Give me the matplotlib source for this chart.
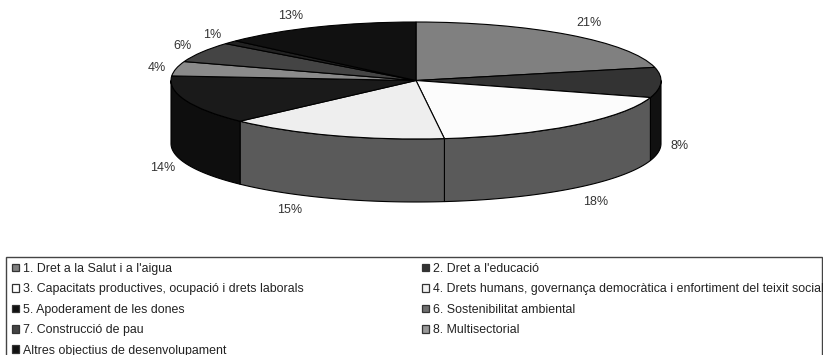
import numpy as np
import matplotlib
matplotlib.use("Agg")
import matplotlib.pyplot as plt
from matplotlib.patches import Patch, Rectangle

plt.rcParams['font.family'] = ['Liberation Sans', 'DejaVu Sans']

categories = ["1. Dret a la Salut i a l'aigua", "2. Dret a l'educació",
              "3. Capacitats productives, ocupació i drets laborals",
              "4. Drets humans, governança democràtica i enfortiment del teixit social",
              "5. Apoderament de les dones", "6. Sostenibilitat ambiental",
              "7. Construcció de pau", "8. Multisectorial",
              "Altres objectius de desenvolupament"]
# slice order around the pie, clockwise from 12 o'clock
slice_values = [21.4, 8.3, 18.45, 14.6, 13.5, 4.0, 5.6, 1.0, 13.15]
top_colors = ['#808080', '#333333', '#fcfcfc', '#eeeeee', '#1a1a1a', '#8a8a8a', '#444444', '#222222', '#111111']
side_colors = ['#555555', '#111111', '#5a5a5a', '#5a5a5a', '#0e0e0e', '#555555', '#222222', '#111111', '#080808']
swatch_colors = ['#808080', '#333333', '#ffffff', '#f2f2f2', '#111111', '#707070', '#444444', '#999999', '#111111']
label_nudges = [(5, -3), (-6, 0), (7, 5), (-36, 0), (0, 1), (5, 2), (2, 0), (0, 0), (-17, 0)]

W, H = 823, 355
CX, CY, A, B, D = 416, 80.5, 245, 58.5, 63

fig = plt.figure(figsize=(W / 100, H / 100), dpi=100)
ax = fig.add_axes([0, 0, 1, 1])

v = np.array(slice_values)
edges = np.concatenate([[0], np.cumsum(v)]) / v.sum() * 2 * np.pi
depth = D / B

# front wall of the cylinder
for t0, t1, c in zip(edges[:-1], edges[1:], side_colors):
    lo, hi = max(t0, np.pi / 2), min(t1, 3 * np.pi / 2)
    if hi <= lo:
        continue
    t = np.linspace(lo, hi, 80)
    xs = np.sin(t)
    ys = np.cos(t)
    ax.fill(np.r_[xs, xs[::-1]], np.r_[ys, ys[::-1] - depth], fc=c, ec='black', lw=0.8, zorder=1)

ax.pie(slice_values, startangle=90, counterclock=False, colors=top_colors,
       wedgeprops=dict(edgecolor='black', linewidth=0.8, zorder=2))
ax.set_aspect('auto')
ax.set_xlim(-CX / A, (W - CX) / A)
ax.set_ylim((CY - H) / B, CY / B)

# percentage labels
for t0, t1, val, (dx, dy) in zip(edges[:-1], edges[1:], slice_values, label_nudges):
    m = (t0 + t1) / 2
    x = 1.1 * np.sin(m)
    y = 1.2 * np.cos(m) - (depth if np.pi / 2 < m < 3 * np.pi / 2 else 0)
    ax.annotate(f"{val:.0f}%", (x, y), xytext=(dx * 0.72, -dy * 0.72), textcoords='offset points',
                ha='center', va='center', fontsize=9, color='#333333')

# legend box runs past the bottom edge of the picture, as in the reference
fig.add_artist(Rectangle((6 / W, -0.05), 815.5 / W, 1.05 - 257 / H, transform=fig.transFigure,
                         fc='white', ec='#444444', lw=1.0, zorder=0))

handles = [Patch(fc=c, ec='#333333', lw=0.9) for c in swatch_colors]
order = [0, 2, 4, 6, 8, 1, 3, 5, 7]
leg = fig.legend([handles[i] for i in order], [categories[i] for i in order], ncol=2,
                 loc='upper left', bbox_to_anchor=(6 / W, 1 - 257 / H), borderaxespad=0,
                 fontsize=8.9, frameon=False,
                 handlelength=0.56, handleheight=0.56, handletextpad=0.33,
                 labelspacing=0.68, columnspacing=9.55, borderpad=0.48, labelcolor='#222222')

fig.savefig('out.png', dpi=100)
